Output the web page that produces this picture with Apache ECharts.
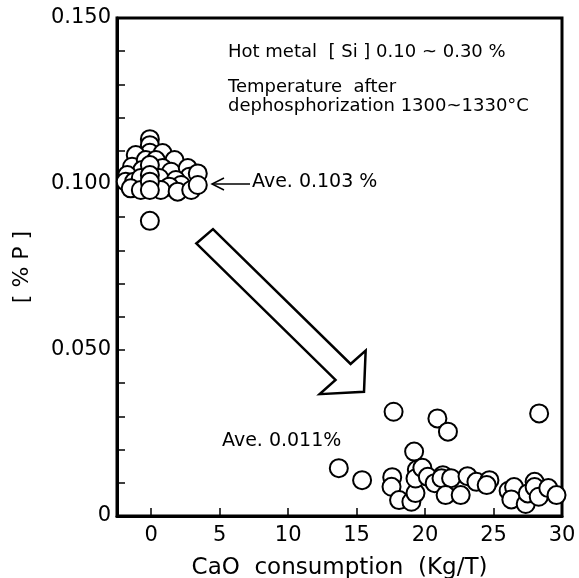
<!DOCTYPE html>
<html>
<head>
<meta charset="utf-8">
<script src="https://cdn.jsdelivr.net/npm/echarts@6/dist/echarts.min.js"></script>
<style>
  html, body { margin: 0; padding: 0; background: #fff; }
  #main { width: 579px; height: 578px; }
</style>
</head>
<body>
<div id="main"></div>
<script>
// before dephosphorization-heavy lime use (cluster around 0 kg/T)
var highX = [-0.1, -0.1, -0.1, -1.13, 0.83, 1.7, -1.4, -0.4, 0.34, -0.66, 0.83, 1.45,
  2.67, -1.75, -1.86, -1.25, -0.76, 0.59, 2.8, 3.4, 1.8, 2.18, 1.32, -1.5,
  -0.76, 0.7, 1.93, 2.92, 3.4, -0.1, -0.1, -0.1, -0.1, -0.1];
var highY = [0.1135, 0.1117, 0.1094, 0.1087, 0.1093, 0.1072, 0.1052, 0.1072, 0.1072, 0.1042, 0.1048, 0.1037,
  0.1048, 0.1027, 0.1007, 0.1007, 0.1018, 0.1018, 0.1022, 0.1032, 0.1012, 0.0997, 0.0992, 0.0987,
  0.0982, 0.0982, 0.0977, 0.0982, 0.0997, 0.1057, 0.1027, 0.1007, 0.0982, 0.0889];
// after
var lowX = [17.7, 20.9, 21.67, 28.33, 19.2, 13.7, 15.4, 17.6, 17.55, 18.1, 19.0, 19.3,
  19.4, 19.3, 19.8, 20.2, 20.7, 21.3, 21.2, 21.9, 21.5, 22.6, 23.1, 23.75,
  24.7, 24.5, 26.1, 26.5, 26.3, 27.35, 27.5, 28.0, 28.0, 28.3, 29.0, 29.6];
var lowY = [0.0314, 0.0294, 0.0254, 0.0309, 0.0194, 0.0144, 0.0108, 0.0117, 0.0088, 0.0048, 0.0043, 0.0069,
  0.0139, 0.0113, 0.0145, 0.0118, 0.0099, 0.0123, 0.0114, 0.0114, 0.0063, 0.0063, 0.012, 0.0103,
  0.0108, 0.0093, 0.0076, 0.0087, 0.005, 0.0036, 0.0068, 0.0103, 0.0087, 0.0058, 0.0084, 0.0063];
var xTicks = [0, 5, 10, 15, 20, 25, 30];
var yLabels = ['0', '0.050', '0.100', '0.150'];

// hollow arrow outline, in data units
var arrowX = [3.29, 4.51, 14.56, 15.66, 15.54, 12.3, 13.46];
var arrowY = [0.0821, 0.0864, 0.0458, 0.0498, 0.0374, 0.0367, 0.041];

var FONT = 'DejaVu Sans';

function pairs(xs, ys) {
  var out = [];
  for (var i = 0; i < xs.length; i++) out.push([xs[i], ys[i]]);
  return out;
}

var myChart = echarts.init(document.getElementById('main'));

var circleStyle = { color: '#fff', borderColor: '#000', borderWidth: 2, opacity: 1 };

var option = {
  animation: false,
  grid: { left: 117, right: 17, top: 18, bottom: 62, outerBoundsMode: 'none', containLabel: false,
    show: true, borderColor: '#000', borderWidth: 3, backgroundColor: 'transparent' },
  xAxis: {
    type: 'value', min: -2.5, max: 30,
    name: 'CaO  consumption  (Kg/T)', nameLocation: 'middle', nameGap: 41,
    nameTextStyle: { fontFamily: FONT, fontSize: 23, color: '#000' },
    axisLine: { show: true, onZero: false, lineStyle: { color: '#000', width: 3 } },
    axisTick: { show: true, inside: true, length: 8, customValues: xTicks, lineStyle: { color: '#000', width: 1.5 } },
    axisLabel: { customValues: xTicks, fontFamily: FONT, fontSize: 21, color: '#000', margin: 9 },
    splitLine: { show: false }
  },
  yAxis: {
    type: 'value', min: 0, max: 0.15, interval: 0.01,
    name: '[ % P ]', nameLocation: 'middle', nameGap: 84, nameRotate: 90,
    nameTextStyle: { fontFamily: FONT, fontSize: 22, color: '#000' },
    axisLine: { show: true, onZero: false, lineStyle: { color: '#000', width: 3 } },
    axisTick: { show: true, inside: true, length: 8, lineStyle: { color: '#000', width: 1.5 } },
    axisLabel: {
      fontFamily: FONT, fontSize: 21, color: '#000', margin: 6,
      formatter: function (v) {
        var k = Math.round(v * 100);
        if (k % 5 !== 0) return '';
        return yLabels[k / 5];
      }
    },
    splitLine: { show: false }
  },
  series: [
    { type: 'scatter', data: pairs(highX, highY), symbol: 'circle', symbolSize: 18, itemStyle: circleStyle, z: 3 },
    { type: 'scatter', data: pairs(lowX, lowY), symbol: 'circle', symbolSize: 18, itemStyle: circleStyle, z: 3 }
  ]
};
myChart.setOption(option);

// annotations
var pts = [];
for (var i = 0; i < arrowX.length; i++) {
  pts.push(myChart.convertToPixel({ gridIndex: 0 }, [arrowX[i], arrowY[i]]));
}
var aveHigh = myChart.convertToPixel({ gridIndex: 0 }, [0, 0.1]);

var textStyle = function (t, x, y, size) {
  return { type: 'text', left: x, top: y, z: 10,
    style: { text: t, fontFamily: FONT, fontSize: size, fill: '#000' } };
};

myChart.setOption({
  graphic: [
    { type: 'polygon', shape: { points: pts }, style: { fill: '#fff', stroke: '#000', lineWidth: 2.5 }, z: 5 },
    textStyle('Hot metal  [ Si ] 0.10 ~ 0.30 %', 228, 43, 18),
    textStyle('Temperature  after', 228, 78, 18),
    textStyle('dephosphorization 1300~1330°C', 228, 97, 18),
    textStyle('Ave. 0.103 %', 252, aveHigh[1] - 11, 19),
    textStyle('Ave. 0.011%', 222, 432, 19),
    { type: 'polyline', shape: { points: [[212, aveHigh[1]], [250, aveHigh[1]]] }, style: { stroke: '#000', lineWidth: 1.5 }, z: 10 },
    { type: 'polyline', shape: { points: [[224, aveHigh[1] - 6], [212, aveHigh[1]], [224, aveHigh[1] + 6]] }, style: { stroke: '#000', lineWidth: 1.5, fill: null }, z: 10 }
  ]
});
</script>
</body>
</html>
